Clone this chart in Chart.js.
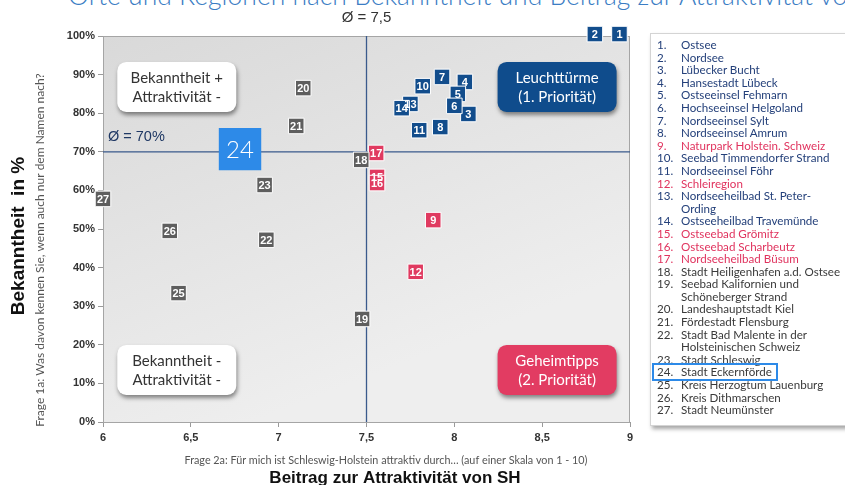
<!DOCTYPE html>
<html>
<head>
<meta charset="utf-8">
<script src="https://cdn.jsdelivr.net/npm/chart.js@4.4.1/dist/chart.umd.min.js"></script>
<style>
  body { margin: 0; width: 845px; height: 485px; overflow: hidden; background: #fff; position: relative; font-family: Lato, "Open Sans", sans-serif; }
  #title { position: absolute; left: 68px; top: -21px; font-size: 26.5px; color: #3b7dc4; white-space: nowrap; font-weight: 300; }
  #chart { position: absolute; left: 0; top: 0; }
  #legend { position: absolute; left: 650px; top: 33px; width: 205px; height: 393px; background: #fff;
            border: 1px solid #d4d4d4; box-shadow: 2px 3px 4px rgba(0,0,0,.35); box-sizing: border-box; padding-top: 5px; }
  #legend div { display: flex; font-size: 11.6px; line-height: 12.6px; white-space: pre-line; }
  #legend span.n { width: 24px; padding-left: 6px; flex: none; }
  #mark { position: absolute; left: 652px; top: 363px; width: 126px; height: 18px; border: 2.5px solid #2d8ae8; box-sizing: border-box; }
</style>
</head>
<body>
<div id="title">Orte und Regionen nach Bekanntheit und Beitrag zur Attraktivität von SH</div>
<canvas id="chart" width="845" height="485"></canvas>
<div id="legend"></div>
<div id="mark"></div>
<script>
// Regionen (Nummer = Index + 1)
const regionNames = [
  "Ostsee", "Nordsee", "Lübecker Bucht", "Hansestadt Lübeck", "Ostseeinsel Fehmarn",
  "Hochseeinsel Helgoland", "Nordseeinsel Sylt", "Nordseeinsel Amrum", "Naturpark Holstein. Schweiz",
  "Seebad Timmendorfer Strand", "Nordseeinsel Föhr", "Schleiregion", "Nordseeheilbad St. Peter-\nOrding",
  "Ostseeheilbad Travemünde", "Ostseebad Grömitz", "Ostseebad Scharbeutz", "Nordseeheilbad Büsum",
  "Stadt Heiligenhafen a.d. Ostsee", "Seebad Kalifornien und\nSchöneberger Strand", "Landeshauptstadt Kiel",
  "Fördestadt Flensburg", "Stadt Bad Malente in der\nHolsteinischen Schweiz", "Stadt Schleswig",
  "Stadt Eckernförde", "Kreis Herzogtum Lauenburg", "Kreis Dithmarschen", "Stadt Neumünster"
];
// Beitrag zur Attraktivität (x)
const attraktivitaet = [8.94, 8.80, 8.08, 8.06, 8.02, 8.00, 7.93, 7.92, 7.88, 7.82, 7.80, 7.78, 7.75, 7.70,
  7.56, 7.56, 7.555, 7.47, 7.475, 7.14, 7.10, 6.93, 6.92, 6.78, 6.43, 6.38, 6.00];
// Bekanntheit in % (y)
const bekanntheit = [100.5, 100.5, 79.8, 88.1, 85.0, 81.9, 89.4, 76.4, 52.3, 87.0, 75.6, 38.9, 82.4, 81.3,
  63.5, 61.9, 69.7, 67.9, 26.7, 86.5, 76.7, 47.2, 61.4, 70.7, 33.4, 49.5, 57.8];
// Gruppe je Region
const gruppen = ["blau", "blau", "blau", "blau", "blau", "blau", "blau", "blau", "rot", "blau", "blau", "rot",
  "blau", "blau", "rot", "rot", "rot", "grau", "grau", "grau", "grau", "grau", "grau", "markiert", "grau", "grau", "grau"];

const xTicks = [6, 6.5, 7, 7.5, 8, 8.5, 9];
const yTicks = [0, 10, 20, 30, 40, 50, 60, 70, 80, 90, 100];
const mittelX = 7.5;
const mittelY = 70;

const farben = { blau: "#124d8c", rot: "#e03a60", grau: "#5e5e5e", markiert: "#2d8ae8" };
const textFarben = { blau: "#24407a", rot: "#e0335e", grau: "#3a3a3a", markiert: "#3a3a3a" };

// Legende
const legend = document.getElementById("legend");
regionNames.forEach(function (name, i) {
  const row = document.createElement("div");
  row.style.color = textFarben[gruppen[i]];
  row.innerHTML = '<span class="n">' + (i + 1) + '.</span><span></span>';
  row.lastChild.textContent = name;
  legend.appendChild(row);
});

function buildDataset(gruppe) {
  const pts = [];
  regionNames.forEach(function (n, i) {
    if (gruppen[i] === gruppe) pts.push({ x: attraktivitaet[i], y: bekanntheit[i], nr: i + 1 });
  });
  const big = gruppe === "markiert";
  return {
    label: gruppe,
    data: pts,
    pointStyle: "rect",
    pointRadius: big ? 30 : 11,
    backgroundColor: farben[gruppe],
    borderColor: big ? farben[gruppe] : "#ffffff",
    borderWidth: big ? 0 : 1,
    clip: false
  };
}

const quadranten = [
  { x: 6.42, y: 86.8, text: ["Bekanntheit +", "Attraktivität -"], fill: "#ffffff", color: "#333333" },
  { x: 8.585, y: 86.8, text: ["Leuchttürme", "(1. Priorität)"], fill: "#0f4c8c", color: "#ffffff" },
  { x: 6.42, y: 13.5, text: ["Bekanntheit -", "Attraktivität -"], fill: "#ffffff", color: "#333333" },
  { x: 8.585, y: 13.5, text: ["Geheimtipps", "(2. Priorität)"], fill: "#e23c62", color: "#ffffff" }
];

function roundRect(ctx, x, y, w, h, r) {
  ctx.beginPath();
  ctx.moveTo(x + r, y);
  ctx.arcTo(x + w, y, x + w, y + h, r);
  ctx.arcTo(x + w, y + h, x, y + h, r);
  ctx.arcTo(x, y + h, x, y, r);
  ctx.arcTo(x, y, x + w, y, r);
  ctx.closePath();
}

const portfolioPlugin = {
  id: "portfolio",
  beforeDatasetsDraw(chart) {
    const { ctx, chartArea: a, scales } = chart;
    ctx.save();
    const g = ctx.createLinearGradient(a.left, a.top, a.left + 150, a.bottom);
    g.addColorStop(0, "#d9d9d9");
    g.addColorStop(1, "#eeeeee");
    ctx.fillStyle = g;
    ctx.fillRect(a.left, a.top, a.right - a.left, a.bottom - a.top);
    ctx.strokeStyle = "#a5a5a5";
    ctx.lineWidth = 1;
    ctx.strokeRect(a.left + 0.5, a.top + 0.5, a.right - a.left - 1, a.bottom - a.top);

    // Mittelwertlinien
    const mx = scales.x.getPixelForValue(mittelX);
    const my = scales.y.getPixelForValue(mittelY);
    ctx.strokeStyle = "#3a5a8c";
    ctx.lineWidth = 1.3;
    ctx.beginPath();
    ctx.moveTo(mx, a.top); ctx.lineTo(mx, a.bottom);
    ctx.moveTo(a.left, my); ctx.lineTo(a.right, my);
    ctx.stroke();

    ctx.fillStyle = "#1f3864";
    ctx.font = "14.5px Arial";
    ctx.textAlign = "left";
    ctx.textBaseline = "middle";
    ctx.fillText("Ø = 70%", a.left + 5, my - 15);
    ctx.fillStyle = "#333";
    ctx.textAlign = "center";
    ctx.font = "15px Arial";
    ctx.fillText("Ø = 7,5", mx, 18);

    // Quadranten-Kästen
    quadranten.forEach(function (q) {
      const cx = scales.x.getPixelForValue(q.x);
      const cy = scales.y.getPixelForValue(q.y);
      const w = 119, h = 50;
      ctx.save();
      ctx.shadowColor = "rgba(0,0,0,0.45)";
      ctx.shadowBlur = 4;
      ctx.shadowOffsetX = 1;
      ctx.shadowOffsetY = 3;
      roundRect(ctx, cx - w / 2, cy - h / 2, w, h, 9);
      ctx.fillStyle = q.fill;
      ctx.fill();
      ctx.restore();
      ctx.fillStyle = q.color;
      ctx.font = "15px Lato";
      ctx.textAlign = "center";
      ctx.fillText(q.text[0], cx, cy - 9);
      ctx.fillText(q.text[1], cx, cy + 10);
    });
    ctx.restore();
  },
  afterDatasetsDraw(chart) {
    const ctx = chart.ctx;
    ctx.save();
    ctx.textAlign = "center";
    ctx.textBaseline = "middle";
    ctx.fillStyle = "#ffffff";
    chart.data.datasets.forEach(function (ds, di) {
      const meta = chart.getDatasetMeta(di);
      ctx.font = ds.label === "markiert" ? "300 24px Lato" : "bold 11px Arial";
      meta.data.forEach(function (el, i) {
        ctx.fillText(String(ds.data[i].nr), el.x, el.y + 1);
      });
    });
    ctx.restore();
  },
  afterDraw(chart) {
    const ctx = chart.ctx;
    ctx.save();
    ctx.textAlign = "center";
    ctx.textBaseline = "middle";
    // y-Achse
    ctx.save();
    ctx.translate(19, 236);
    ctx.rotate(-Math.PI / 2);
    ctx.fillStyle = "#111";
    ctx.font = "bold 19px Arial";
    ctx.fillText("Bekanntheit  in %", 0, 0);
    ctx.restore();
    ctx.save();
    ctx.translate(40, 250);
    ctx.rotate(-Math.PI / 2);
    ctx.fillStyle = "#555";
    ctx.font = "12px Lato";
    ctx.fillText("Frage 1a: Was davon kennen Sie, wenn auch nur dem Namen nach?", 0, 0);
    ctx.restore();
    // x-Achse
    ctx.fillStyle = "#555";
    ctx.font = "10.8px Lato";
    ctx.fillText("Frage 2a: Für mich ist Schleswig-Holstein attraktiv durch… (auf einer Skala von 1 - 10)", 386, 461);
    ctx.fillStyle = "#111";
    ctx.font = "bold 17px Arial";
    ctx.fillText("Beitrag zur Attraktivität von SH", 395, 478);
    ctx.restore();
  }
};

const tickFont = { family: "Arial", weight: "bold", size: 11 };

new Chart(document.getElementById("chart"), {
  type: "scatter",
  data: { datasets: ["grau", "rot", "blau", "markiert"].map(buildDataset) },
  options: {
    responsive: false,
    animation: false,
    events: [],
    layout: { padding: { left: 63, right: 215, top: 36, bottom: 33 } },
    plugins: { legend: { display: false }, tooltip: { enabled: false } },
    scales: {
      x: {
        type: "linear", min: xTicks[0], max: xTicks[xTicks.length - 1],
        afterBuildTicks: function (s) { s.ticks = xTicks.map(function (v) { return { value: v }; }); },
        afterFit: function (s) { s.height = 30; },
        ticks: { color: "#333", font: tickFont, padding: 4, callback: function (v) { return String(v).replace(".", ","); } },
        grid: { drawOnChartArea: false, tickLength: 5, color: "#9a9a9a" },
        border: { color: "#9a9a9a" }
      },
      y: {
        type: "linear", min: yTicks[0], max: yTicks[yTicks.length - 1],
        afterBuildTicks: function (s) { s.ticks = yTicks.map(function (v) { return { value: v }; }); },
        afterFit: function (s) { s.width = 40; },
        ticks: { color: "#333", font: tickFont, padding: 3, callback: function (v) { return v + "%"; } },
        grid: { drawOnChartArea: false, tickLength: 5, color: "#9a9a9a" },
        border: { color: "#9a9a9a" }
      }
    }
  },
  plugins: [portfolioPlugin]
});
</script>
</body>
</html>
